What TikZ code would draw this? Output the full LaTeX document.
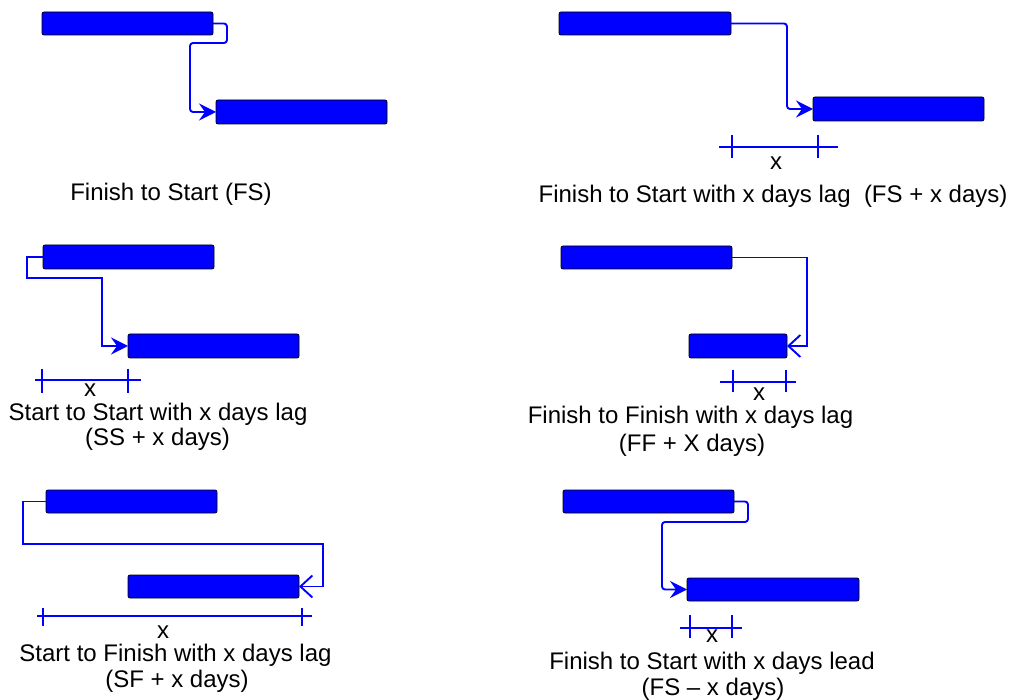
\documentclass[tikz,border=0pt]{standalone}
\usepackage{fontspec}
\setmainfont{Liberation Sans}
\usetikzlibrary{arrows.meta}
\definecolor{barblue}{RGB}{0,0,255}
\begin{document}
\begin{tikzpicture}[x=1pt,y=-1pt,
 bar/.style={draw=black, line width=0.8pt, fill=barblue, rounded corners=2pt, anchor=north west, inner sep=0pt, outer sep=0pt},
 conn/.style={draw=barblue, line width=1.9pt},
 roundconn/.style={conn, rounded corners=3pt},
 fsarrow/.style={-{Stealth[length=17pt,width=17pt,inset=6pt]}},
 ffarrow/.style={-{Straight Barb[length=12pt,width=22pt]}},
 dim/.style={draw=barblue, line width=1.4pt},
 lbl/.style={font=\fontsize{24}{27}\selectfont, anchor=base, inner sep=0pt},
 xl/.style={font=\fontsize{24}{27}\selectfont, inner sep=0pt},
]
\useasboundingbox[fill=white] (0,0) rectangle (1012,700);

% Panel 1: FS
\node[bar, minimum width=171pt, minimum height=23pt] (a1) at (42,12) {};
\node[bar, minimum width=171pt, minimum height=24pt] (b1) at (216,100) {};
\draw[roundconn, fsarrow] (a1.east) -- (227,23.5) -- (227,43) -- (190,43) -- (190,112) -- (b1.west);
\node[lbl] (t1) at (171,201) {Finish to Start (FS)};

% Panel 2: FS + x lag
\node[bar, minimum width=172pt, minimum height=23pt] (a2) at (559,12) {};
\node[bar, minimum width=171pt, minimum height=24pt] (b2) at (813,97) {};
\draw[roundconn, fsarrow] (a2.east) -- (787,23.5) -- (787,109) -- (b2.west);
\draw[dim] (719,147) -- (838,147);
\draw[dim] (732,135) -- (732,158);
\draw[dim] (818,135) -- (818,158);
\node[xl] (x2) at (776,163) {x};
\node[lbl] (t2) at (773,203) {Finish to Start with x days lag\ \ (FS + x days)};

% Panel 3: SS + x lag
\node[bar, minimum width=171pt, minimum height=24pt] (a3) at (43,245) {};
\node[bar, minimum width=171pt, minimum height=24pt] (b3) at (128,334) {};
\draw[conn, fsarrow] (a3.west) -- (27,257) -- (27,278) -- (102,278) -- (102,346) -- (b3.west);
\draw[dim] (35,380) -- (141,380);
\draw[dim] (42,369) -- (42,393);
\draw[dim] (128,369) -- (128,393);
\node[xl] (x3) at (90,390) {x};
\node[lbl] (t3a) at (158,420.5) {Start to Start with x days lag};
\node[lbl] (t3b) at (157.5,446) {(SS + x days)};

% Panel 4: FF + x lag
\node[bar, minimum width=171pt, minimum height=23pt] (a4) at (561,246) {};
\node[bar, minimum width=98pt, minimum height=24pt] (b4) at (689,334) {};
\draw[conn, ffarrow] (a4.east) -- (807,257.5) -- (807,346) -- (b4.east);
\draw[dim] (720,382) -- (796,382);
\draw[dim] (733,370) -- (733,392);
\draw[dim] (786,370) -- (786,392);
\node[xl] (x4) at (759,394) {x};
\node[lbl] (t4a) at (690.5,424) {Finish to Finish with x days lag};
\node[lbl] (t4b) at (692,451) {(FF + X days)};

% Panel 5: SF + x lag
\node[bar, minimum width=171pt, minimum height=23pt] (a5) at (46,490) {};
\node[bar, minimum width=171pt, minimum height=23pt] (b5) at (128,575) {};
\draw[conn, ffarrow] (a5.west) -- (23,501.5) -- (23,544) -- (323,544) -- (323,586.5) -- (b5.east);
\draw[dim] (37,616) -- (312,616);
\draw[dim] (43,608) -- (43,626);
\draw[dim] (302,608) -- (302,626);
\node[xl] (x5) at (163,632) {x};
\node[lbl] (t5a) at (175.5,661.5) {Start to Finish with x days lag};
\node[lbl] (t5b) at (177,687.5) {(SF + x days)};

% Panel 6: FS - x lead
\node[bar, minimum width=171pt, minimum height=23pt] (a6) at (563,490) {};
\node[bar, minimum width=172pt, minimum height=23pt] (b6) at (687,578) {};
\draw[roundconn, fsarrow] (a6.east) -- (748,501.5) -- (748,522) -- (662,522) -- (662,589.5) -- (b6.west);
\draw[dim] (680,628) -- (742,628);
\draw[dim] (690,615) -- (690,638);
\draw[dim] (732,615) -- (732,638);
\node[xl] (x6) at (712,636) {x};
\node[lbl] (t6a) at (712,669) {Finish to Start with x days lead};
\node[lbl] (t6b) at (713,695.5) {(FS -- x days)};
\end{tikzpicture}
\end{document}
